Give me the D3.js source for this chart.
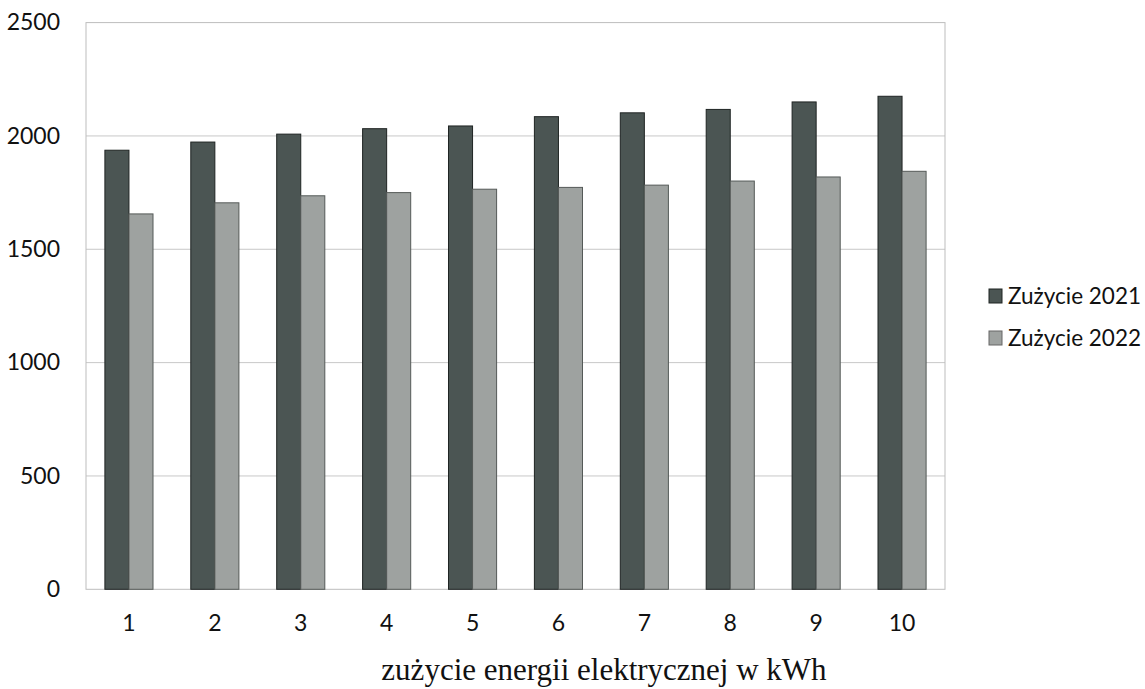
<!DOCTYPE html>
<html><head><meta charset="utf-8">
<script src="https://cdn.jsdelivr.net/npm/d3@7"></script>
<style>body{margin:0;background:#fff}</style>
</head><body>
<svg id="c" width="1145" height="689"></svg>
<script>
const categories = ["1","2","3","4","5","6","7","8","9","10"];
const series2021 = [1937,1973,2008,2032,2044,2085,2102,2117,2150,2175];
const series2022 = [1656,1705,1736,1750,1765,1773,1783,1801,1819,1844];
const seriesNames = ["Zużycie 2021","Zużycie 2022"];
const yTicks = [0,500,1000,1500,2000,2500];
const colors = ["#4b5553","#9ea2a0"];

const svg = d3.select("#c");
const L=86, R=945, T=22.6, B=589.3;
const x = d3.scaleBand().domain(categories).range([L,R]).padding(0);
const y = d3.scaleLinear().domain([0,2500]).range([B,T]);
const bw = x.bandwidth()*0.28;
const font = "Lato, 'Open Sans', sans-serif";

// gridlines
svg.append("g").selectAll("line").data(yTicks.slice(1,-1)).join("line")
  .attr("x1",L).attr("x2",R).attr("y1",d=>y(d)).attr("y2",d=>y(d))
  .attr("stroke","#c8c8c8").attr("stroke-width",1);
// plot border
svg.append("rect").attr("x",L).attr("y",T).attr("width",R-L).attr("height",B-T)
  .attr("fill","none").attr("stroke","#bdbdbd").attr("stroke-width",1);

const data = categories.map((c,i)=>({c, v:[series2021[i],series2022[i]]}));
const g = svg.append("g");
data.forEach(d=>{
  d.v.forEach((v,j)=>{
    const cx = x(d.c)+x.bandwidth()/2;
    g.append("rect")
      .attr("x", cx - bw + j*bw).attr("y", y(v))
      .attr("width", bw).attr("height", y(0)-y(v))
      .attr("fill", colors[j]).attr("stroke", j===0?"#1f2423":"#555a58").attr("stroke-width",1);
  });
});

// y axis labels
const yAxis = d3.axisLeft(y).tickValues(yTicks).tickFormat(d3.format("d")).tickSize(0).tickPadding(26);
const ya = svg.append("g").attr("transform",`translate(${L},0)`).call(yAxis);
ya.select(".domain").remove();
ya.selectAll("text").attr("font-family",font).attr("font-size",23).attr("fill","#111");

// x axis labels
const xAxis = d3.axisBottom(x).tickSize(0).tickPadding(25);
const xa = svg.append("g").attr("transform",`translate(0,${B})`).call(xAxis);
xa.select(".domain").remove();
xa.selectAll("text").attr("font-family",font).attr("font-size",23).attr("fill","#111");

// x title
svg.append("text").attr("x",604).attr("y",680).attr("text-anchor","middle")
  .attr("font-family","'Liberation Serif', serif").attr("font-size",31).attr("fill","#111")
  .text("zużycie energii elektrycznej w kWh");

// legend
const lg = svg.append("g").attr("transform","translate(989,0)");
seriesNames.forEach((n,i)=>{
  const yy = 296 + i*42;
  lg.append("rect").attr("x",0).attr("y",yy-7).attr("width",13).attr("height",14)
    .attr("fill",colors[i]).attr("stroke",i===0?"#1f2423":"#666");
  lg.append("text").attr("x",19).attr("y",yy+8).attr("font-family",font)
    .attr("font-size",22.5).attr("fill","#111").text(n);
});
</script>
</body></html>
